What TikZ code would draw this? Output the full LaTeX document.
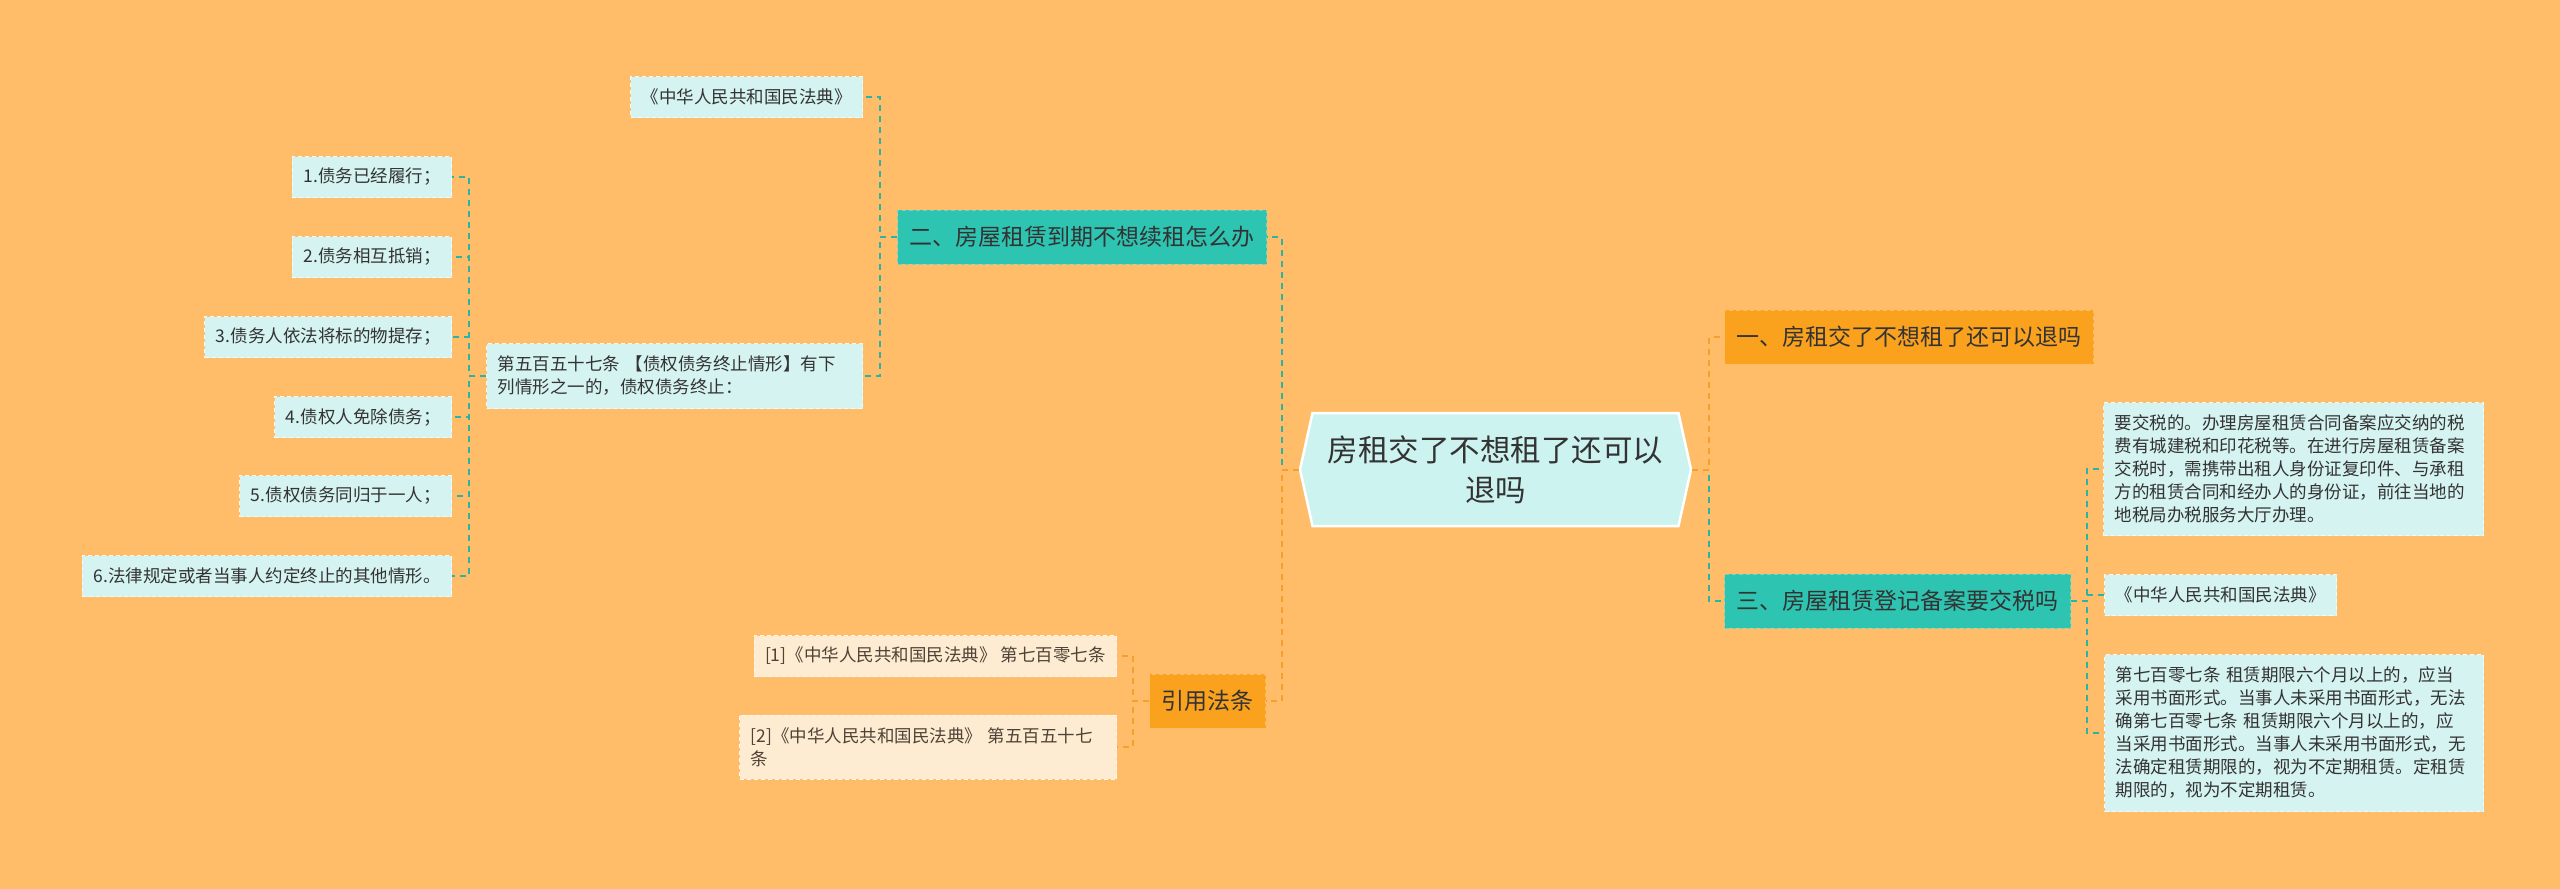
\documentclass[tikz,border=0pt]{standalone}
\usepackage{fontspec}
\setmainfont{Noto Sans CJK SC}
\usepackage{xcolor}
\usepackage{tikz}
\usetikzlibrary{shapes.symbols}
\definecolor{bgcolor}{HTML}{FFBD69}
\definecolor{tealcolor}{HTML}{2EC4B2}
\definecolor{orangecolor}{HTML}{FAA11E}
\definecolor{leafcolor}{HTML}{D5F3F0}
\definecolor{rootcolor}{HTML}{CCF3EF}
\definecolor{creamcolor}{HTML}{FDECD2}
\definecolor{tealline}{HTML}{2BB3A3}
\definecolor{orangeline}{HTML}{F5A02C}
\definecolor{inkcolor}{HTML}{333333}

\begin{document}
\begin{tikzpicture}[x=1pt, y=-1pt,
    % Central topic: hexagon-like signal shape with a white outline.
    rootbox/.style={signal, signal to=west and east, signal pointer angle=155,
                    fill=rootcolor, draw=white, line width=2.5pt,
                    minimum width=391pt, minimum height=113pt, inner sep=0pt,
                    align=center, text=inkcolor,
                    font=\fontsize{30.5pt}{40pt}\selectfont},
    % First-level topics: filled boxes with a dashed outline.
    branch/.style={rectangle, dashed, line width=1pt, dash pattern=on 4pt off 3pt,
                   minimum height=54pt, inner xsep=12pt, text=inkcolor,
                   font=\fontsize{23pt}{28pt}\selectfont},
    tealbranch/.style={branch, fill=tealcolor, draw=tealcolor!70!white},
    orangebranch/.style={branch, fill=orangecolor, draw=orangecolor!70!white},
    % Leaf notes: light boxes, smaller text, explicit line breaks.
    leaf/.style={rectangle, fill=leafcolor, draw=white!70!leafcolor,
                 line width=1pt, dash pattern=on 4pt off 3pt,
                 minimum height=41pt, inner xsep=11pt, inner ysep=6pt,
                 text=inkcolor, align=left,
                 font=\fontsize{17.5pt}{23pt}\selectfont},
    creamleaf/.style={leaf, fill=creamcolor, draw=white!60!creamcolor,
                      text=inkcolor!80!brown},
    % Connectors: dashed orthogonal links in the branch colour.
    tlink/.style={draw=tealline, line width=2pt, dash pattern=on 6pt off 5pt},
    olink/.style={draw=orangeline, line width=2pt, dash pattern=on 6pt off 5pt}
]

    % === Canvas ===
    \useasboundingbox (0,0) rectangle (2560,889);
    \fill[bgcolor] (0,0) rectangle (2560,889);

    % === Central topic ===
    \node[rootbox] (root) at (1495.5, 469.5) {房租交了不想租了还可以\\退吗};

    % === Right branches ===
    \node[orangebranch, anchor=west] (one)   at (1724, 337) {一、房租交了不想租了还可以退吗};
    \node[tealbranch, anchor=west]   (three) at (1724, 601) {三、房屋租赁登记备案要交税吗};

    % === Left branches ===
    \node[tealbranch, anchor=east]   (two)  at (1267, 237) {二、房屋租赁到期不想续租怎么办};
    \node[orangebranch, anchor=east] (cite) at (1266, 701) {引用法条};

    % === Children of branch two ===
    \node[leaf, anchor=east] (civil) at (863, 97) {《中华人民共和国民法典》};
    \node[leaf, anchor=east, text width=354pt, minimum height=65pt] (art557) at (863, 376)
        {第五百五十七条 【债权债务终止情形】有下\\列情形之一的，债权债务终止：};

    % Six termination cases listed under article 557
    \node[leaf, anchor=east] (item1) at (452, 177) {1.债务已经履行；};
    \node[leaf, anchor=east] (item2) at (452, 257) {2.债务相互抵销；};
    \node[leaf, anchor=east] (item3) at (452, 337) {3.债务人依法将标的物提存；};
    \node[leaf, anchor=east] (item4) at (452, 417) {4.债权人免除债务；};
    \node[leaf, anchor=east] (item5) at (452, 496) {5.债权债务同归于一人；};
    \node[leaf, anchor=east] (item6) at (452, 576) {6.法律规定或者当事人约定终止的其他情形。};

    % === Children of branch three ===
    \node[leaf, anchor=west, text width=358pt, minimum height=133pt] (tax) at (2103, 469)
        {要交税的。办理房屋租赁合同备案应交纳的税\\
         费有城建税和印花税等。在进行房屋租赁备案\\
         交税时，需携带出租人身份证复印件、与承租\\
         方的租赁合同和经办人的身份证，前往当地的\\
         地税局办税服务大厅办理。};
    \node[leaf, anchor=west] (civilR) at (2104, 595) {《中华人民共和国民法典》};
    \node[leaf, anchor=west, text width=357pt, minimum height=157pt] (art707) at (2104, 733)
        {第七百零七条 租赁期限六个月以上的，应当\\
         采用书面形式。当事人未采用书面形式，无法\\
         确第七百零七条 租赁期限六个月以上的，应\\
         当采用书面形式。当事人未采用书面形式，无\\
         法确定租赁期限的，视为不定期租赁。定租赁\\
         期限的，视为不定期租赁。};

    % === Cited articles ===
    \node[creamleaf, anchor=east] (ref1) at (1117, 656) {[1]《中华人民共和国民法典》 第七百零七条};
    \node[creamleaf, anchor=east, text width=355pt, minimum height=64pt] (ref2) at (1117, 747)
        {[2]《中华人民共和国民法典》 第五百五十七\\条};

    % === Connectors ===
    % root -> first-level topics
    \draw[tlink] (root.east) -- ++(17,0) |- (three.west);
    \draw[olink] (root.east) -- ++(17,0) |- (one.west);
    \draw[tlink] (root.west) -- ++(-17,0) |- (two.east);
    \draw[olink] (root.west) -- ++(-17,0) |- (cite.east);

    % branch two -> its notes
    \draw[tlink] (two.west) -- ++(-17,0) |- (civil.east);
    \draw[tlink] (two.west) -- ++(-17,0) |- (art557.east);

    % article 557 -> the six cases
    \draw[tlink] (art557.west) -- ++(-17,0) |- (item1.east);
    \draw[tlink] (art557.west) -- ++(-17,0) |- (item2.east);
    \draw[tlink] (art557.west) -- ++(-17,0) |- (item3.east);
    \draw[tlink] (art557.west) -- ++(-17,0) |- (item4.east);
    \draw[tlink] (art557.west) -- ++(-17,0) |- (item5.east);
    \draw[tlink] (art557.west) -- ++(-17,0) |- (item6.east);

    % branch three -> its notes
    \draw[tlink] (three.east) -- ++(16,0) |- (tax.west);
    \draw[tlink] (three.east) -- ++(16,0) |- (civilR.west);
    \draw[tlink] (three.east) -- ++(16,0) |- (art707.west);

    % cited articles
    \draw[olink] (cite.west) -- ++(-16,0) |- (ref1.east);
    \draw[olink] (cite.west) -- ++(-16,0) |- (ref2.east);

\end{tikzpicture}
\end{document}
